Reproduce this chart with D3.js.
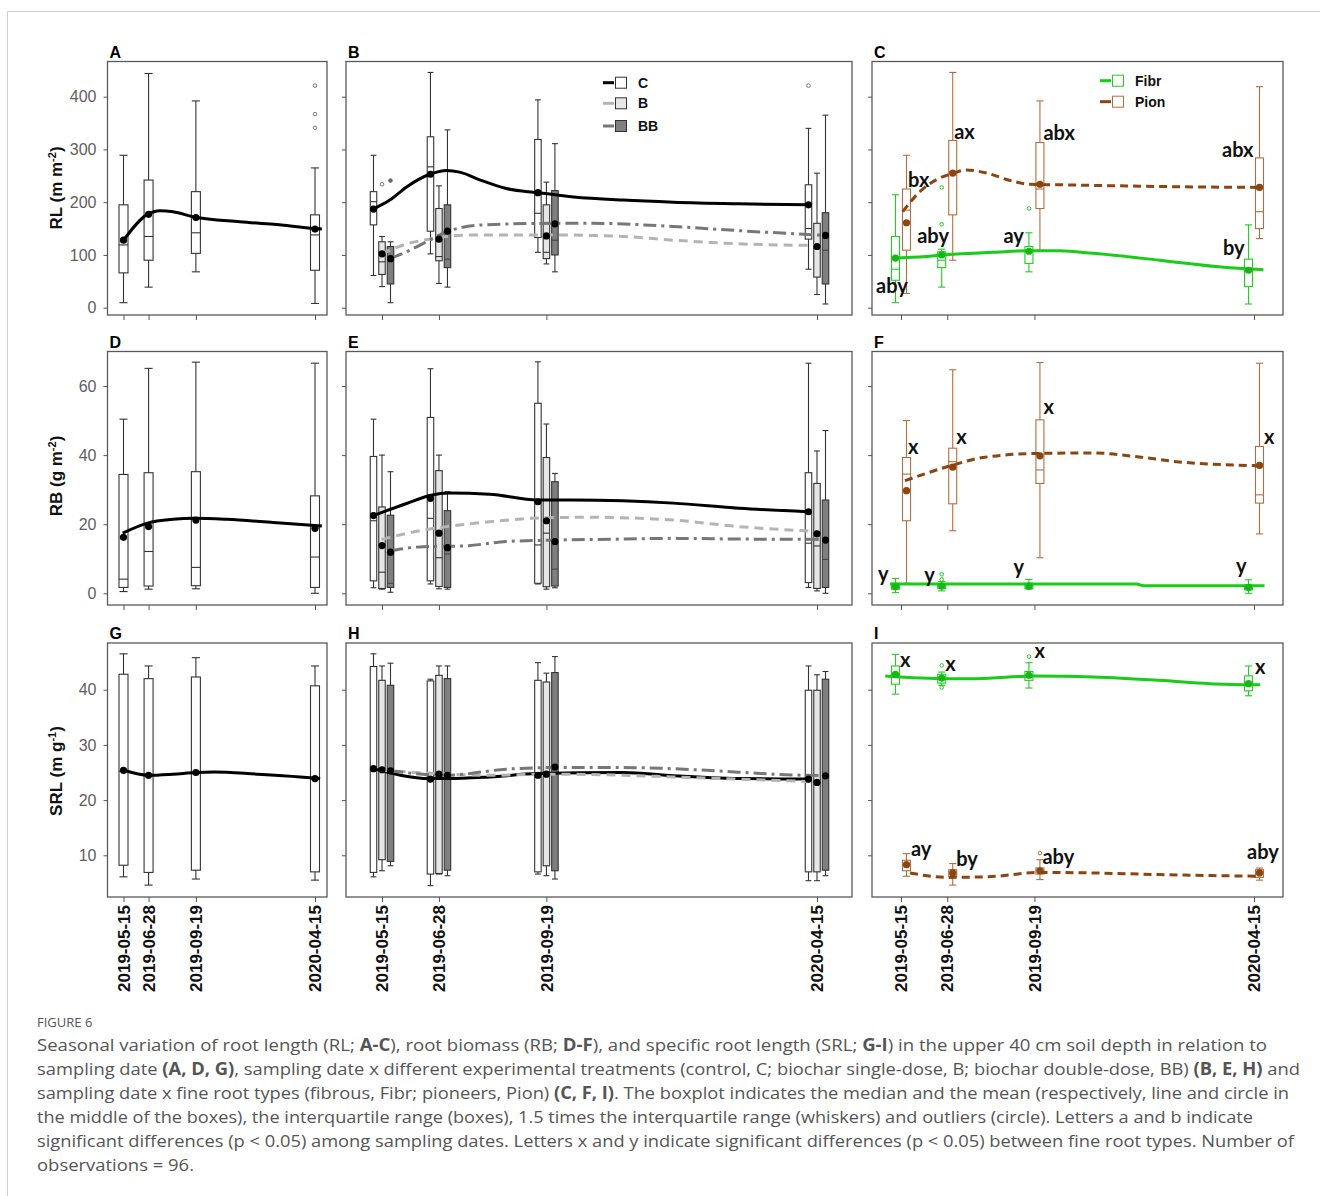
<!DOCTYPE html>
<html>
<head>
<meta charset="utf-8">
<script src="https://cdn.jsdelivr.net/npm/d3@7"></script>
<style>
  body { margin: 0; background: #fff; }
</style>
</head>
<body>
<div id="fig"></div>
<script>
// sampling dates (x axis)
const dates = ['2019-05-15', '2019-06-28', '2019-09-19', '2020-04-15'];

// box stats per date: [whiskerLow, q1, median, q3, whiskerHigh, mean]
// RL (m m-2)
const rlAll   = [[9.5,66,119,195,289,128],[39,90,135,242,444,177],[68,103,142,220,392,171],[8,71,138,176,265,149]];
const rlAllOut = [[],[],[],[341,367,421]];
const rlC  = [[61,157,201,220,289,187],[102,145,267,324,446,253],[105,133,179,319,394,218],[73,130,150,233,340,195]];
const rlCOut = [[],[],[],[421]];
const rlB  = [[40,63,87,125,135,102],[46,89,97,188,231,130],[83,93,105,195,238,136],[25,58,116,160,255,116]];
const rlBOut = [[234],[],[],[]];
const rlBB = [[9.5,45,90,116,125,93],[39,76,92,195,337,145],[68,100,128,222,311,159],[7,45,109,180,365,137]];
const rlBBOut = [[241],[],[],[]];
const rlFibr = [[9.5,52,73,135,214,94],[39,76,90,106,111,100],[68,84,106,116,142,107],[7,40,71,92,157,71]];
const rlFibrOut = [[],[158,228],[188],[]];
const rlPion = [[27,109,185,225,289,161],[90,176,258,317,446,255],[109,188,225,313,392,234],[131,150,182,284,419,228]];

// RB (g m-2)
const rbAll = [[0.5,1.7,4.1,34.4,50.4,16.2],[1.2,2.1,12.1,34.9,65.1,19.3],[1.3,2.2,7.5,35.2,66.9,21.2],[0,1.7,10.5,28.2,66.6,18.8]];
const rbC  = [[1.6,3.6,21,39.6,50.4,22.5],[2.7,3.6,21.7,50.9,65,27.5],[2.7,2.9,14,55,67,26.5],[1.7,3.1,14.5,34.9,66.6,23.6]];
const rbB  = [[1.2,1.4,6.1,25,40,13.8],[1.3,2,10.3,35.5,40,17.4],[1.2,1.9,17.4,39.3,49,21],[0.7,1.4,13.7,31.8,41.2,17.2]];
const rbBB = [[0.3,1.7,2.9,22.6,35.2,11.9],[1.2,1.7,11.4,23.9,29.4,13.2],[1.6,2.1,7,32.3,34.7,15],[0,1.7,9.8,27,47.1,15.4]];
const rbFibr = [[0.2,1.2,1.9,2.9,4.3,1.9],[0.7,1.4,2.1,2.7,3.4,2.1],[1.2,1.4,2.1,2.9,4,2.1],[0,1,1.4,2.4,3.9,1.7]];
const rbFibrOut = [[],[4,5.5],[],[]];
const rbPion = [[2.9,21,34.5,39.3,50,29.7],[18.1,25.9,38.1,42,64.7,36.5],[10.3,31.8,35.7,50.2,66.8,39.8],[17.2,26.1,28.5,42.5,66.6,37]];

// SRL (m g-1)
const srlAll = [[6.1,8.2,25.2,42.8,46.5,25.4],[4.6,6.9,24.4,42,44.3,24.5],[5.7,7.3,25,42.3,45.8,25],[5.5,7,23.8,40.7,44.3,23.9]];
const srlC  = [[6.1,6.9,25.6,44.2,46.5,25.7],[4.5,6.6,23.8,41.6,41.9,23.8],[6.6,7,24.5,41.7,44.9,24.5],[5.4,7,23.8,39.9,44.3,23.8]];
const srlB  = [[7.2,9.2,25.4,41.7,44.3,25.5],[6.6,6.7,24.6,42.6,44.3,24.7],[6.3,8.1,24.6,41.4,43,24.7],[5.4,7,23.2,39.9,42.7,23.2]];
const srlBB = [[8.1,8.9,25.2,40.8,44.8,25.3],[6.3,7.3,24.5,42,44.3,24.5],[5.7,7.2,25.9,43.1,46,26],[6.3,7.3,24.4,41.9,43.3,24.4]];
const srlFibr = [[39.2,41,42.5,44.3,46.4,42.8],[40.8,41.2,42,42.8,43.2,42.1],[40.3,41.7,42.5,43.3,44.9,42.6],[38.9,39.8,41.1,42.5,44.3,41.1]];
const srlFibrOut = [[],[40.4,44.4],[46],[]];
const srlPion = [[6.2,7.2,8.2,9.1,10.3,8.3],[4.6,6.2,6.8,7.4,8.5,6.8],[5.6,6.6,7.2,7.7,9.2,7.2],[5.5,6,6.8,7.4,7.7,6.8]];
const srlPionOut = [[],[],[10.4],[]];

// smoothed trend lines: [days since first sampling, value]
const fitRlAll = [[0,128],[42,177],[64,184],[87,182],[124,172],[204,163],[263,158],[336,150],[348,149]];
const fitRlC  = [[-6.7,187],[6,204],[19,229],[37,253],[50,260],[60,257],[76,242],[96,226],[120,218],[148,210],[186,204],[225,200],[276,197],[329,195]];
const fitRlB  = [[-0.3,102],[19,121],[32,128],[50,135],[70,138],[127,138],[186,135],[225,128],[276,121],[336,118]];
const fitRlBB = [[6.4,93],[19,106],[32,122],[50,144],[78,157],[134,160],[161,160],[225,154],[276,146],[343,137]];
const fitRlFibr = [[-8.6,94],[24,97],[39,100],[88,105],[123,108],[151,108],[183,103],[246,90],[310,76],[345,72]];
const fitRlPion = [[1.6,182],[18,220],[34,243],[50,255],[62,261],[82,255],[104,241],[123,234],[151,233],[278,229],[341,228]];

const fitRbAll = [[-1.4,17.4],[42,20.3],[87,21.4],[124,21.7],[181,21.4],[263,20.5],[348,19.5]];
const fitRbC  = [[-6.7,22.5],[19,26],[37,28.3],[52,29],[83,28.7],[120,27],[148,27],[225,26.1],[276,24.6],[329,23.6]];
const fitRbB  = [[-0.3,15.6],[32,18.3],[50,19.3],[83,20.7],[128,21.9],[161,22],[225,21.2],[276,19.3],[336,17.9]];
const fitRbBB = [[6.4,12.3],[32,13.5],[63,13.7],[96,15],[134,15.4],[186,15.7],[225,15.9],[276,15.7],[343,15.6]];
const fitRbFibr = [[-10.5,2.7],[224,2.7],[231,2.2],[346,2.2]];
const fitRbPion = [[3.8,32.6],[47,36.9],[78,39.3],[132,40.5],[183,40.6],[231,39.3],[262,38.1],[342,36.9]];

const fitSrlAll = [[0.9,25.4],[43.5,24.5],[87,24.7],[127,25],[158,25.1],[234,24.7],[310,24.2],[345,23.9]];
const fitSrlC  = [[-6.7,25.7],[37,23.9],[50,23.9],[83,24.2],[120,24.8],[186,25],[225,24.4],[276,23.9],[329,23.8]];
const fitSrlB  = [[-0.3,25.4],[44,24.8],[83,24.5],[127,24.7],[186,24.5],[225,24.2],[276,23.8],[336,23.3]];
const fitSrlBB = [[6.4,25.3],[50,24.5],[96,25.6],[134,25.9],[186,25.9],[251,25.4],[302,24.7],[343,24.4]];
const fitSrlFibr = [[-15,42.5],[44,42],[72,42],[127,42.5],[183,42.3],[246,41.7],[294,41.1],[342,40.9]];
const fitSrlPion = [[8.6,6.8],[44,6],[82,6.1],[132,6.9],[183,6.8],[246,6.5],[342,6.2]];

// significance letters: [text, date index, value at baseline]
const lettersRl  = [['aby',0,27],['bx',0,229],['ax',1,319],['aby',1,122],['ay',2,122],['abx',2,318],['abx',3,286],['by',3,100]];
const lettersRb  = [['x',0,40.3],['x',1,43.2],['x',2,51.9],['x',3,43.2],['y',0,3.7],['y',1,3.2],['y',2,5.5],['y',3,5.8]];
const lettersSrl = [['x',0,44.1],['x',1,43.4],['x',2,45.7],['x',3,42.8],['ay',0,9.8],['by',1,8.0],['aby',2,8.35],['aby',3,9.4]];

const yTicksRl = [0, 100, 200, 300, 400];
const yTicksRb = [0, 20, 40, 60];
const yTicksSrl = [10, 20, 30, 40];

// ---------------- layout ----------------
const W = 1320, H = 1196;
const svg = d3.select('#fig').append('svg').attr('width', W).attr('height', H)
  .style('font-family', '"Liberation Sans", Arial, sans-serif');
svg.append('rect').attr('width', W).attr('height', H).attr('fill', '#fff');
svg.append('path').attr('d', `M7.5,${H} V11.5 H${W}`).attr('fill', 'none').attr('stroke', '#cfcfcf');

const parse = d3.timeParse('%Y-%m-%d');
const dt = dates.map(parse);
const atDay = d => new Date(+dt[0] + d * 864e5);

const cols = [
  { x0: 107.5, x1: 327, t0: 123.5, t1: 315 },
  { x0: 346, x1: 852, t0: 382, t1: 817 },
  { x0: 872, x1: 1283, t0: 901, t1: 1254 }
];
const rows = [
  { y0: 61.5, y1: 315, dom: [0, 400], rng: [307.7, 96.7], ticks: yTicksRl },
  { y0: 351.5, y1: 605, dom: [0, 60], rng: [593.3, 386], ticks: yTicksRb },
  { y0: 643, y1: 897, dom: [10, 40], rng: [855.3, 689.7], ticks: yTicksSrl }
];

const allStyle = [{ fill: '#fff', stroke: '#333', line: '#000', dash: null, dot: '#000', off: 0, w: 9 }];
const trtStyle = [
  { fill: '#ffffff', stroke: '#333', line: '#000', dash: null, dot: '#000', off: -8.5, w: 6.5, outFill: '#fff', outStroke: '#777' },
  { fill: '#e6e6e6', stroke: '#333', line: '#b4b4b4', dash: '9,6', dot: '#000', off: 0, w: 6.5, outFill: '#fff', outStroke: '#777' },
  { fill: '#7f7f7f', stroke: '#333', line: '#777', dash: '13,5,3,5', dot: '#000', off: 8.5, w: 6.5, outFill: '#666', outStroke: '#666' }
];
const typeStyle = [
  { fill: '#fff', stroke: '#22cc22', line: '#18cc18', dash: null, dot: '#17b617', off: -5.5, w: 8, outFill: '#fff', outStroke: '#22cc22' },
  { fill: '#fff', stroke: '#b46d3f', line: '#8b4513', dash: '8,5', dot: '#8b4513', off: 5.5, w: 8, outFill: '#fff', outStroke: '#b46d3f' }
];

function panel(col, row, label, series, styles, letters, letterDx) {
  const c = cols[col], r = rows[row];
  const x = d3.scaleTime().domain([dt[0], dt[3]]).range([c.t0, c.t1]);
  const y = d3.scaleLinear().domain(r.dom).range(r.rng);
  const g = svg.append('g');

  g.append('rect').attr('x', c.x0).attr('y', r.y0)
    .attr('width', c.x1 - c.x0).attr('height', r.y1 - r.y0)
    .attr('fill', 'none').attr('stroke', '#5a5a5a').attr('stroke-width', 1.3);

  const ya = g.append('g').attr('transform', `translate(${c.x0},0)`)
    .call(d3.axisLeft(y).tickValues(r.ticks).tickSize(4).tickPadding(7)
      .tickFormat(col === 0 ? d3.format('d') : () => ''));
  ya.select('.domain').remove();
  ya.selectAll('line').attr('stroke', '#555');
  ya.selectAll('text').attr('fill', '#606060').style('font-size', '16px').style('font-family', '"Liberation Sans", Arial');

  const xa = g.append('g').attr('transform', `translate(0,${r.y1})`)
    .call(d3.axisBottom(x).tickValues(dt).tickSize(5).tickFormat(() => ''));
  xa.select('.domain').remove();
  xa.selectAll('line').attr('stroke', '#555');

  if (row === 2) {
    g.selectAll('.dlab').data(dt).join('text')
      .attr('transform', d => `translate(${x(d)},${r.y1 + 8}) rotate(-90)`)
      .attr('text-anchor', 'end').attr('dy', '0.36em')
      .style('font-size', '17px').style('font-weight', 'bold').attr('fill', '#111')
      .text((d, i) => dates[i]);
  }

  g.append('text').attr('x', c.x0 + 2).attr('y', r.y0 - 4)
    .style('font-size', '16px').style('font-weight', 'bold').text(label);

  // boxes
  series.forEach((s, si) => {
    const st = styles[si];
    s.stats.forEach((b, di) => {
      const cx = x(dt[di]) + st.off, hw = st.w / 2, cw = st.w * 0.45;
      const bg = g.append('g').attr('stroke', st.stroke).attr('stroke-width', 1.1);
      bg.append('line').attr('x1', cx).attr('x2', cx).attr('y1', y(b[0])).attr('y2', y(b[4]));
      bg.append('line').attr('x1', cx - cw).attr('x2', cx + cw).attr('y1', y(b[0])).attr('y2', y(b[0]));
      bg.append('line').attr('x1', cx - cw).attr('x2', cx + cw).attr('y1', y(b[4])).attr('y2', y(b[4]));
      bg.append('rect').attr('x', cx - hw).attr('width', st.w)
        .attr('y', y(b[3])).attr('height', Math.max(1, y(b[1]) - y(b[3])))
        .attr('fill', st.fill);
      bg.append('line').attr('x1', cx - hw).attr('x2', cx + hw).attr('y1', y(b[2])).attr('y2', y(b[2]))
        .attr('stroke', st.fill === '#7f7f7f' ? '#444' : st.stroke);
      (s.out ? s.out[di] : []).forEach(o => {
        g.append('circle').attr('cx', cx).attr('cy', y(o)).attr('r', 1.8)
          .attr('fill', st.outFill || '#fff').attr('stroke', st.outStroke || '#777').attr('stroke-width', 1);
      });
    });
  });

  // trend lines
  const line = d3.line().x(d => x(atDay(d[0]))).y(d => y(d[1])).curve(d3.curveMonotoneX);
  series.forEach((s, si) => {
    const st = styles[si];
    g.append('path').datum(s.fit).attr('d', line).attr('fill', 'none')
      .attr('stroke', st.line).attr('stroke-width', 3)
      .attr('stroke-dasharray', st.dash);
  });

  // means
  series.forEach((s, si) => {
    const st = styles[si];
    g.selectAll(null).data(s.stats).join('circle')
      .attr('cx', (d, di) => x(dt[di]) + st.off).attr('cy', d => y(d[5]))
      .attr('r', 3.6).attr('fill', st.dot);
  });

  if (letters) {
    g.selectAll('.let').data(letters).join('text')
      .attr('x', (d, i) => x(dt[d[1]]) + letterDx[i]).attr('y', d => y(d[2]))
      .style('font-family', 'Lato, "Open Sans", sans-serif').style('font-weight', 'bold')
      .style('font-size', '20px').attr('fill', '#111')
      .text(d => d[0]);
  }
}

panel(0, 0, 'A', [{ stats: rlAll, out: rlAllOut, fit: fitRlAll }], allStyle);
panel(1, 0, 'B', [
  { stats: rlC, out: rlCOut, fit: fitRlC },
  { stats: rlB, out: rlBOut, fit: fitRlB },
  { stats: rlBB, out: rlBBOut, fit: fitRlBB }], trtStyle);
panel(2, 0, 'C', [
  { stats: rlFibr, out: rlFibrOut, fit: fitRlFibr },
  { stats: rlPion, fit: fitRlPion }], typeStyle, lettersRl, [-25, 7, 7, -30, -31, 9, -32, -31]);

panel(0, 1, 'D', [{ stats: rbAll, fit: fitRbAll }], allStyle);
panel(1, 1, 'E', [
  { stats: rbC, fit: fitRbC },
  { stats: rbB, fit: fitRbB },
  { stats: rbBB, fit: fitRbBB }], trtStyle);
panel(2, 1, 'F', [
  { stats: rbFibr, out: rbFibrOut, fit: fitRbFibr },
  { stats: rbPion, fit: fitRbPion }], typeStyle, lettersRb, [7, 9, 9, 10, -23, -23, -21, -18]);

panel(0, 2, 'G', [{ stats: srlAll, fit: fitSrlAll }], allStyle);
panel(1, 2, 'H', [
  { stats: srlC, fit: fitSrlC },
  { stats: srlB, fit: fitSrlB },
  { stats: srlBB, fit: fitSrlBB }], trtStyle);
panel(2, 2, 'I', [
  { stats: srlFibr, out: srlFibrOut, fit: fitSrlFibr },
  { stats: srlPion, out: srlPionOut, fit: fitSrlPion }], typeStyle, lettersSrl, [-1, -2, 0, 1, 10, 9, 8, -7]);

// y-axis titles
function yTitle(cy, main, sup) {
  const t = svg.append('text').attr('transform', `translate(62,${cy}) rotate(-90)`)
    .attr('text-anchor', 'middle').style('font-size', '17px').style('font-weight', 'bold').attr('fill', '#111');
  t.append('tspan').text(main);
  t.append('tspan').attr('dy', -6).style('font-size', '11px').text(sup);
  t.append('tspan').attr('dy', 6).text(')');
}
yTitle(188, 'RL (m m', '-2');
yTitle(476, 'RB (g m', '-2');
yTitle(771, 'SRL (m g', '-1');

// legends
function legend(x0, ys, items) {
  items.forEach((it, i) => {
    const g = svg.append('g').attr('transform', `translate(${x0},${ys[i]})`);
    g.append('line').attr('x1', 0).attr('x2', 11).attr('stroke', it.line).attr('stroke-width', 3);
    g.append('rect').attr('x', 12.5).attr('y', -5.5).attr('width', 11).attr('height', 11)
      .attr('fill', it.fill).attr('stroke', it.stroke).attr('stroke-width', 1);
    g.append('text').attr('x', 35).attr('dy', '0.36em').style('font-size', '14px')
      .style('font-weight', 'bold').attr('fill', '#111').text(it.name);
  });
}
legend(603, [82.7, 103.3, 126], [
  { name: 'C', line: '#000', fill: '#fff', stroke: '#333' },
  { name: 'B', line: '#b4b4b4', fill: '#e6e6e6', stroke: '#333' },
  { name: 'BB', line: '#777', fill: '#7f7f7f', stroke: '#333' }]);
legend(1100, [80.7, 101.7], [
  { name: 'Fibr', line: '#18cc18', fill: '#fff', stroke: '#22cc22' },
  { name: 'Pion', line: '#8b4513', fill: '#fff', stroke: '#b46d3f' }]);

// caption
svg.append('text').attr('x', 37).attr('y', 1027).attr('fill', '#555')
  .style('font-family', '"Open Sans", sans-serif').style('font-size', '13px').text('FIGURE 6');

const captionLines = [
  [['Seasonal variation of root length (RL; '], ['A-C', 1], ['), root biomass (RB; '], ['D-F', 1], ['), and specific root length (SRL; '], ['G-I', 1], [') in the upper 40 cm soil depth in relation to']],
  [['sampling date '], ['(A, D, G)', 1], [', sampling date x different experimental treatments (control, C; biochar single-dose, B; biochar double-dose, BB) '], ['(B, E, H)', 1], [' and']],
  [['sampling date x fine root types (fibrous, Fibr; pioneers, Pion) '], ['(C, F, I)', 1], ['. The boxplot indicates the median and the mean (respectively, line and circle in']],
  [['the middle of the boxes), the interquartile range (boxes), 1.5 times the interquartile range (whiskers) and outliers (circle). Letters a and b indicate']],
  [['significant differences (p < 0.05) among sampling dates. Letters x and y indicate significant differences (p < 0.05) between fine root types. Number of']],
  [['observations = 96.']]
];
const captionWidths = [1230, 1263, 1252, 1216, 1257, 157];
captionLines.forEach((ln, i) => {
  const t = svg.append('text').attr('x', 37).attr('y', 1051 + i * 24).attr('fill', '#555')
    .style('font-family', '"Open Sans", sans-serif').style('font-size', '17px')
    .attr('textLength', captionWidths[i]).attr('lengthAdjust', 'spacingAndGlyphs');
  ln.forEach(seg => t.append('tspan').style('font-weight', seg[1] ? 'bold' : 'normal').text(seg[0]));
});
</script>
</body>
</html>
